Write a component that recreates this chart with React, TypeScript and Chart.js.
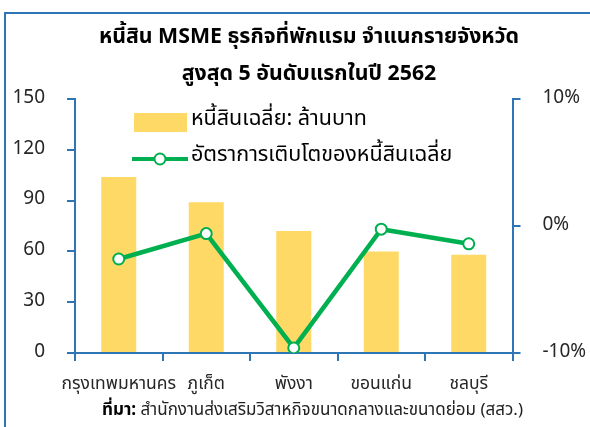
import React, { useEffect, useRef } from "react";
import { Chart, registerables } from "chart.js";

Chart.register(...registerables);

const categories = ["กรุงเทพมหานคร", "ภูเก็ต", "พังงา", "ขอนแก่น", "ชลบุรี"];
const avgDebt = [104, 89, 72, 60, 58];
const growthRate = [-2.6, -0.6, -9.6, -0.25, -1.4];
const titleLines = ["หนี้สิน MSME ธุรกิจที่พักแรม จำแนกรายจังหวัด", "สูงสุด 5 อันดับแรกในปี 2562"];
const legendBar = "หนี้สินเฉลี่ย: ล้านบาท";
const legendLine = "อัตราการเติบโตของหนี้สินเฉลี่ย";
const sourceLabel = "ที่มา:";
const sourceText = " สำนักงานส่งเสริมวิสาหกิจขนาดกลางและขนาดย่อม (สสว.)";

const FONT = "Tahoma, 'Leelawadee UI', 'Noto Sans Thai', 'Noto Sans', sans-serif";
const AXIS = "#2E75B6";
const BAR = "#FFD966";
const GREEN = "#00B050";
const TEXT = "#262626";

const overlay = {
  id: "overlay",
  afterDraw(chart: any) {
    const ctx = chart.ctx;
    ctx.save();
    // frame
    ctx.strokeStyle = AXIS;
    ctx.lineWidth = 2;
    ctx.beginPath();
    ctx.moveTo(600, 13);
    ctx.lineTo(5, 13);
    ctx.lineTo(5, 440);
    ctx.stroke();
    // title
    ctx.fillStyle = "#000";
    ctx.textAlign = "center";
    ctx.textBaseline = "middle";
    ctx.font = `bold 21.3px ${FONT}`;
    ctx.fillText(titleLines[0], 309, 39);
    ctx.fillText(titleLines[1], 309, 76);
    // legend
    ctx.fillStyle = BAR;
    ctx.fillRect(134, 113, 53, 19);
    ctx.strokeStyle = GREEN;
    ctx.lineWidth = 4;
    ctx.beginPath();
    ctx.moveTo(132, 159);
    ctx.lineTo(188, 159);
    ctx.stroke();
    ctx.beginPath();
    ctx.arc(160, 159, 5.5, 0, Math.PI * 2);
    ctx.fillStyle = "#fff";
    ctx.fill();
    ctx.lineWidth = 2;
    ctx.stroke();
    ctx.fillStyle = "#000";
    ctx.textAlign = "left";
    ctx.font = `21.5px ${FONT}`;
    ctx.fillText(legendBar, 191, 121);
    ctx.fillText(legendLine, 191, 157);
    // source
    ctx.font = `bold 17px ${FONT}`;
    ctx.fillText(sourceLabel, 102, 412);
    const w = ctx.measureText(sourceLabel).width;
    ctx.font = `17px ${FONT}`;
    ctx.fillStyle = "#222";
    ctx.fillText(sourceText, 102 + w, 412);
    ctx.restore();
  },
};

export default function App() {
  const ref = useRef<HTMLCanvasElement>(null);
  useEffect(() => {
    if (!ref.current) return;
    const chart = new Chart(ref.current, {
      type: "bar",
      data: {
        labels: categories,
        datasets: [
          {
            type: "line",
            label: legendLine,
            data: growthRate,
            yAxisID: "y1",
            borderColor: GREEN,
            borderWidth: 4.5,
            pointRadius: 5.5,
            pointBorderWidth: 2,
            pointBackgroundColor: "#fff",
            pointBorderColor: GREEN,
            order: 1,
          } as any,
          {
            type: "bar",
            label: legendBar,
            data: avgDebt,
            yAxisID: "y",
            backgroundColor: BAR,
            categoryPercentage: 1,
            barPercentage: 0.4,
            order: 2,
          },
        ],
      },
      options: {
        responsive: false,
        animation: false,
        layout: { padding: { top: 99, left: 0, right: 0, bottom: 0 } },
        plugins: { legend: { display: false }, title: { display: false }, tooltip: { enabled: false } },
        scales: {
          x: {
            offset: true,
            grid: { display: true, drawOnChartArea: false, drawTicks: true, tickLength: 8, color: AXIS, lineWidth: 2, offset: true },
            border: { color: AXIS, width: 2 },
            ticks: { font: { family: FONT, size: 17.5 }, color: TEXT, padding: 14, maxRotation: 0, autoSkip: false },
            afterFit: (s: any) => { s.height = 74; },
          },
          y: {
            position: "left",
            min: 0,
            max: 150,
            ticks: { stepSize: 30, font: { family: FONT, size: 19 }, color: TEXT, padding: 22 },
            grid: { display: true, drawOnChartArea: false, drawTicks: true, tickLength: 8, color: AXIS, lineWidth: 2 },
            border: { color: AXIS, width: 2 },
            afterFit: (s: any) => { s.width = 75; },
          },
          y1: {
            position: "right",
            min: -10,
            max: 10,
            ticks: { stepSize: 10, font: { family: FONT, size: 19 }, color: TEXT, padding: 22, callback: (v: any) => `${v}%` },
            grid: { display: true, drawOnChartArea: false, drawTicks: true, tickLength: 8, color: AXIS, lineWidth: 2 },
            border: { color: AXIS, width: 2 },
            afterFit: (s: any) => { s.width = 77.5; },
          },
        },
      },
      plugins: [overlay],
    });
    return () => chart.destroy();
  }, []);
  return (
    <div style={{ position: "fixed", left: 0, top: 0, width: 590, height: 427, background: "#fff" }}>
      <canvas ref={ref} width={590} height={427} style={{ width: 590, height: 427, display: "block" }} />
    </div>
  );
}
